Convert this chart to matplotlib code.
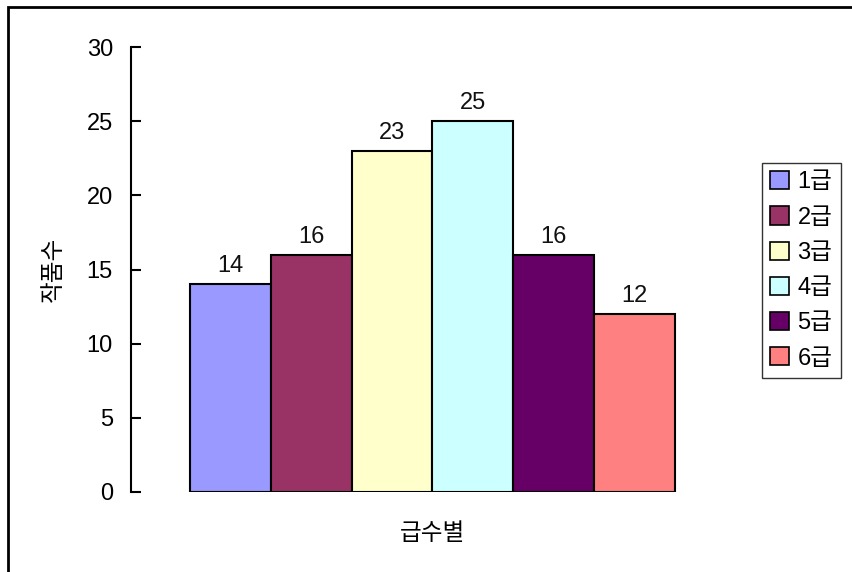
import matplotlib
matplotlib.use("Agg")
import matplotlib.pyplot as plt
from matplotlib.patches import Rectangle, Patch

plt.rcParams['font.family'] = ['Liberation Sans', 'Noto Sans CJK KR', 'DejaVu Sans']

series = ['1급', '2급', '3급', '4급', '5급', '6급']
values = [14, 16, 23, 25, 16, 12]
colors = ['#9999FF', '#993366', '#FFFFCC', '#CCFFFF', '#660066', '#FF8080']
yticks = [0, 5, 10, 15, 20, 25, 30]
ylabel = '작품수'
xlabel = '급수별'

FS = 17
W, H = 852, 572
fig = plt.figure(figsize=(W / 100, H / 100), dpi=100)
ax = fig.add_axes([131 / W, (H - 492) / H, (734 - 131) / W, (492 - 47) / H])

xs = list(range(len(values)))
ax.bar(xs, values, width=1.0, color=colors, edgecolor='black', linewidth=1.5, zorder=3)
for x, v in zip(xs, values):
    ax.annotate(str(v), (x, v), xytext=(0, 5), textcoords='offset points',
                ha='center', va='bottom', fontsize=FS, color='#111111')

ax.set_xlim(-0.5 - 0.73, len(values) - 0.5 + 0.73)
ax.set_ylim(0, 30)
ax.set_yticks(yticks)
ax.set_yticklabels([str(t) for t in yticks], fontsize=FS)
ax.tick_params(axis='y', direction='in', length=7, width=1.5, pad=13)
ax.set_xticks([])
for s in ['top', 'right', 'bottom']:
    ax.spines[s].set_visible(False)
ax.spines['left'].set_linewidth(1.5)
ax.set_ylabel(ylabel, fontsize=FS, labelpad=16)
ax.set_xlabel(xlabel, fontsize=FS, labelpad=22)

handles = [Patch(facecolor=c, edgecolor='black', linewidth=1.2) for c in colors]
leg = fig.legend(handles, series, loc='upper left',
                 bbox_to_anchor=(762 / W, 1 - 163 / H), bbox_transform=fig.transFigure,
                 fontsize=FS, frameon=True, fancybox=False, edgecolor='black',
                 handlelength=0.8, handleheight=0.8, handletextpad=0.35,
                 labelspacing=0.55, borderpad=0.35, borderaxespad=0)
leg.get_frame().set_linewidth(1.0)

# outer chart border (partially outside the image)
fig.patches.append(Rectangle((8 / W, -0.1), 1.2, (H - 7) / H + 0.1,
                             transform=fig.transFigure, fill=False,
                             edgecolor='black', linewidth=2))

fig.savefig('out.png', dpi=100)
